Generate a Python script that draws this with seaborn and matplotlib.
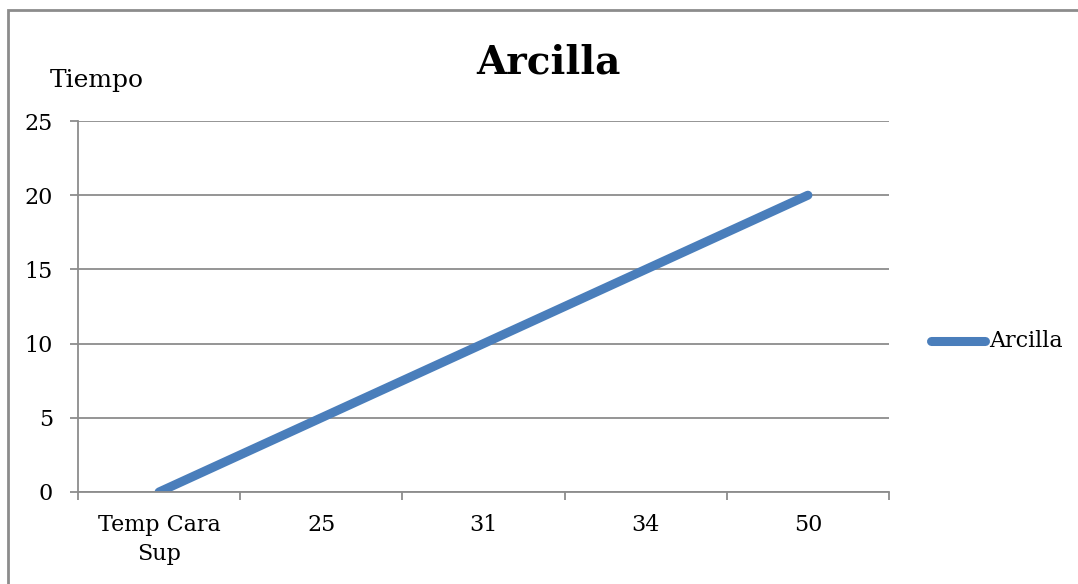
import matplotlib
matplotlib.use("Agg")
import matplotlib.pyplot as plt
from matplotlib.patches import Rectangle
import seaborn as sns
import pandas as pd

categories = ["Temp Cara\nSup", "25", "31", "34", "50"]
tiempo = [0, 5, 10, 15, 20]
series_name = "Arcilla"
y_ticks = [0, 5, 10, 15, 20, 25]

sns.set_theme(style="white")
plt.rcParams["font.family"] = ["DejaVu Serif"]
plt.rcParams["text.color"] = "black"
plt.rcParams["xtick.color"] = "black"
plt.rcParams["ytick.color"] = "black"

df = pd.DataFrame({"cat": categories, "tiempo": tiempo, "serie": series_name})

W, H = 1078, 584
fig = plt.figure(figsize=(W / 100, H / 100), dpi=100)
ax = fig.add_axes([78 / W, 1 - 492 / H, (889 - 78) / W, (492 - 121) / H])

line_color = "#4a7ebb"
sns.lineplot(data=df, x="cat", y="tiempo", hue="serie", palette=[line_color],
             linewidth=6.5, ax=ax, sort=False, legend=False,
             solid_capstyle="round")

grid_c = "#8c8c8c"
ax.set_xlim(-0.5, len(categories) - 0.5)
ax.set_ylim(0, 25)
ax.set_yticks(y_ticks)
ax.set_yticklabels([str(v) for v in y_ticks])
ax.yaxis.grid(True, color=grid_c, linewidth=1.3)
ax.set_axisbelow(True)

# category boundaries carry the tick marks, labels sit at the centres
ax.set_xticks([i - 0.5 for i in range(len(categories) + 1)])
ax.set_xticklabels([])
ax.set_xticks(range(len(categories)), minor=True)
ax.set_xticklabels(categories, minor=True)
ax.tick_params(axis="x", which="major", bottom=True, length=6, width=1.3,
               color=grid_c, direction="out")
ax.tick_params(axis="x", which="minor", bottom=True, length=0, pad=16,
               labelsize=16, labelcolor="black")
ax.tick_params(axis="y", left=True, length=6, width=1.3, color=grid_c,
               direction="out", pad=12, labelsize=16, labelcolor="black")
for lab in ax.get_xticklabels(minor=True):
    lab.set_linespacing(1.4)

for s in ["top", "right"]:
    ax.spines[s].set_visible(False)
for s in ["left", "bottom"]:
    ax.spines[s].set_color(grid_c)
    ax.spines[s].set_linewidth(1.3)
ax.set_xlabel("")
ax.set_ylabel("")

fig.text(548 / W, 1 - 62 / H, "Arcilla", ha="center", va="center",
         fontsize=28, fontweight="bold", color="black")
fig.text(50 / W, 1 - 80 / H, "Tiempo", ha="left", va="center",
         fontsize=18, color="black")

# legend
fig.lines.append(plt.Line2D([931 / W, 985 / W], [1 - 341 / H, 1 - 341 / H],
                            transform=fig.transFigure, color=line_color,
                            linewidth=6.5, solid_capstyle="round"))
fig.text(989 / W, 1 - 341 / H, series_name, ha="left", va="center",
         fontsize=16, color="black")

# chart frame
fig.patches.append(Rectangle((7.5 / W, -0.1), 1.2, 1.1 - 10.5 / H,
                             transform=fig.transFigure, fill=False,
                             edgecolor="#8c8c8c", linewidth=2))

fig.savefig("out.png", dpi=100)
